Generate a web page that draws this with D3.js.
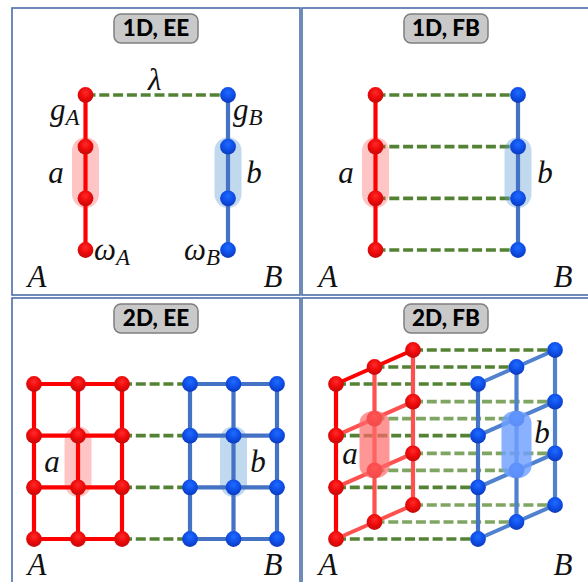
<!DOCTYPE html>
<html>
<head>
<meta charset="utf-8">
<script src="https://cdnjs.cloudflare.com/ajax/libs/d3/7.8.5/d3.min.js"></script>
<style>
  html, body { margin: 0; padding: 0; background: #fff; overflow: hidden; }
  text { fill: #111; }
  .title { font-family: Lato, "Open Sans", sans-serif; font-weight: 900; font-size: 22.5px; text-anchor: middle; fill: #000; }
  .math { font-family: "Liberation Serif", serif; font-style: italic; font-size: 31px; }
  .sub { font-size: 23px; }
</style>
</head>
<body>
<svg id="canvas" width="588" height="582"></svg>
<script>
// layer index / row index of the sites in each lattice
var panel_titles = ['1D, EE', '1D, FB', '2D, EE', '2D, FB']
var rows = [0, 1, 2, 3]
var cols_1d = [0]
var cols_2d = [0, 1, 2]
var depths_flat = [0]
var depths_3d = [0, 1, 2]

// which rows carry the dashed coupling between A and B
var coupled_rows_ee = [0]
var coupled_rows_fb = [0, 1, 2, 3]
var coupled_rows_2d = [0, 1, 2, 3]

var subsystem_names = ['A', 'B']
var region_names = ['a', 'b']

var canvas = d3.select('#canvas')

var colors = {
  red: '#ff0000', red_back: '#ff5050',
  blue: '#4472c4', blue_back: '#4f81cf',
  green: '#548235', green_back: '#7fa562',
  frame: '#4a6ea9'
}

// ball shading
var defs = canvas.append('defs')
function ball_gradient(id, c0, c1, c2) {
  var g = defs.append('radialGradient').attr('id', id)
    .attr('cx', '50%').attr('cy', '35%').attr('r', '62%')
  g.append('stop').attr('offset', '0%').attr('stop-color', c0)
  g.append('stop').attr('offset', '55%').attr('stop-color', c1)
  g.append('stop').attr('offset', '100%').attr('stop-color', c2)
}
ball_gradient('ball_red', '#ff2a2a', '#ee0a0a', '#c80a0a')
ball_gradient('ball_blue', '#1f6bff', '#0f50ea', '#0c3cc0')

// frames
var frame_x = d3.scaleOrdinal().domain([0, 1]).range([12, 302])
var frame_y = d3.scaleOrdinal().domain([0, 1]).range([8, 298])
var frame_w = d3.scaleOrdinal().domain([0, 1]).range([288, 300])
var frame_h = d3.scaleOrdinal().domain([0, 1]).range([287, 300])
var title_x = d3.scaleOrdinal().domain([0, 1]).range([156, 446])
var title_y = d3.scaleOrdinal().domain([0, 1]).range([14, 304])

function draw_panel(p) {
  var col = p.index % 2, row = Math.floor(p.index / 2)
  var g = canvas.append('g')

  g.append('rect')
    .attr('x', frame_x(col)).attr('y', frame_y(row))
    .attr('width', frame_w(col)).attr('height', frame_h(row))
    .attr('fill', '#fff').attr('stroke', colors.frame).attr('stroke-width', 1.6)

  var y = d3.scaleLinear().domain([0, 3]).range(p.y_range)
  var depth_x = d3.scaleLinear().domain([0, 2]).range([0, p.skew_x || 0])
  var depth_y = d3.scaleLinear().domain([0, 2]).range([0, p.skew_y || 0])
  var xA = d3.scaleLinear().domain([0, Math.max(1, p.cols.length - 1)]).range(p.xA_range)
  var xB = d3.scaleLinear().domain([0, Math.max(1, p.cols.length - 1)]).range(p.xB_range)

  function px(scale, c, d) { return scale(c) + depth_x(d) }
  function py(r, d) { return y(r) + depth_y(d) }

  // all bonds of one lattice, back layers first
  function bonds(scale, strong, light) {
    var list = []
    p.depths.slice().reverse().forEach(function(d) {
      p.cols.forEach(function(c) {
        rows.slice(0, 3).forEach(function(r) {
          list.push({x1: px(scale, c, d), y1: py(r, d), x2: px(scale, c, d), y2: py(r + 1, d),
                     stroke: d == 0 ? strong : light, w: 4.2})
        })
      })
      if (!p.is_3d) {
        rows.forEach(function(r) {
          p.cols.slice(0, -1).forEach(function(c) {
            if (p.cols.length > 1) list.push({x1: px(scale, c, d), y1: py(r, d), x2: px(scale, c + 1, d), y2: py(r, d), stroke: strong, w: 4.2})
          })
        })
      }
    })
    if (p.is_3d) {
      rows.forEach(function(r) {
        p.depths.slice(0, -1).forEach(function(d) {
          list.push({x1: px(scale, 0, d), y1: py(r, d), x2: px(scale, 0, d + 1), y2: py(r, d + 1),
                     stroke: (r == 0 && scale === xA) ? strong : light, w: 4})
        })
      })
    }
    return list
  }

  // dashed couplings
  var dashes = []
  p.depths.slice().reverse().forEach(function(d) {
    p.coupled.forEach(function(r) {
      dashes.push({x1: px(xA, p.cols[p.cols.length - 1], d), x2: px(xB, 0, d), y: py(r, d),
                   stroke: (d == 0 || r == 0) ? colors.green : colors.green_back})
    })
  })
  g.selectAll('line.dash').data(dashes).join('line').attr('class', 'dash')
    .attr('x1', function(d) { return d.x1 }).attr('x2', function(d) { return d.x2 })
    .attr('y1', function(d) { return d.y }).attr('y2', function(d) { return d.y })
    .attr('stroke', function(d) { return d.stroke })
    .attr('stroke-width', 3.6).attr('stroke-dasharray', '10 3.8')

  // pale region behind the sites (flat panels) or over them (3d panel)
  function pills(layer) {
    var mid_c = p.cols[Math.floor(p.cols.length / 2)]
    var mid_d = p.depths[Math.floor(p.depths.length / 2)]
    var hw = p.is_3d ? 15 : 13.5
    var margin = p.is_3d ? 8 : 9.5
    var data = [
      {cx: px(xA, mid_c, mid_d), fill: p.is_3d ? '#ff6a6a' : '#ff3b3b', op: p.is_3d ? 0.7 : 0.3},
      {cx: px(xB, mid_c, mid_d), fill: p.is_3d ? '#6fa0ff' : '#5b9bd5', op: p.is_3d ? 0.82 : 0.38}
    ]
    layer.selectAll('rect.pill').data(data).join('rect').attr('class', 'pill')
      .attr('x', function(d) { return d.cx - hw })
      .attr('y', py(1, mid_d) - margin)
      .attr('width', hw * 2)
      .attr('height', py(2, mid_d) - py(1, mid_d) + margin * 2)
      .attr('rx', hw).attr('ry', p.is_3d ? 12 : hw)
      .attr('fill', function(d) { return d.fill })
      .attr('fill-opacity', function(d) { return d.op })
  }

  if (!p.is_3d) pills(g.append('g'))

  var bond_data = bonds(xA, colors.red, colors.red_back).concat(bonds(xB, colors.blue, colors.blue_back))
  g.selectAll('line.bond').data(bond_data).join('line').attr('class', 'bond')
    .attr('x1', function(d) { return d.x1 }).attr('x2', function(d) { return d.x2 })
    .attr('y1', function(d) { return d.y1 }).attr('y2', function(d) { return d.y2 })
    .attr('stroke', function(d) { return d.stroke })
    .attr('stroke-width', function(d) { return d.w })

  var sites = []
  ;[[xA, 'ball_red'], [xB, 'ball_blue']].forEach(function(s) {
    p.depths.slice().reverse().forEach(function(d) {
      p.cols.forEach(function(c) {
        rows.forEach(function(r) {
          sites.push({x: px(s[0], c, d), y: py(r, d), fill: s[1]})
        })
      })
    })
  })
  g.selectAll('circle.site').data(sites).join('circle').attr('class', 'site')
    .attr('cx', function(d) { return d.x }).attr('cy', function(d) { return d.y })
    .attr('r', 7.9)
    .attr('fill', function(d) { return 'url(#' + d.fill + ')' })

  if (p.is_3d) pills(g.append('g'))

  // title badge
  g.append('rect')
    .attr('x', title_x(col) + p.title_dx - 42).attr('y', title_y(row))
    .attr('width', 84).attr('height', 29).attr('rx', 7)
    .attr('fill', '#c9c9c9').attr('stroke', '#7f7f7f').attr('stroke-width', 1.5)
  g.append('text').attr('class', 'title')
    .attr('x', title_x(col) + p.title_dx).attr('y', title_y(row) + 22)
    .text(panel_titles[p.index])

  // corner letters
  g.selectAll('text.corner').data(subsystem_names).join('text')
    .attr('class', 'math corner').attr('text-anchor', 'middle')
    .attr('x', function(d, i) { return p.corner_x[i] })
    .attr('y', row == 0 ? 287 : 575)
    .text(function(d) { return d })

  // region letters
  g.selectAll('text.region').data(region_names).join('text')
    .attr('class', 'math region').attr('text-anchor', 'middle')
    .attr('x', function(d, i) { return p.region_x[i] })
    .attr('y', function(d, i) { return p.region_y[i] })
    .text(function(d) { return d })
}

draw_panel({index: 0, cols: cols_1d, depths: depths_flat, coupled: coupled_rows_ee, title_dx: 0,
  y_range: [95, 250], xA_range: [85.5, 85.5], xB_range: [228, 228],
  corner_x: [37, 273], region_x: [56, 254], region_y: [183, 183]})
draw_panel({index: 1, cols: cols_1d, depths: depths_flat, coupled: coupled_rows_fb, title_dx: 0,
  y_range: [95, 250], xA_range: [375.5, 375.5], xB_range: [518, 518],
  corner_x: [328, 563], region_x: [346, 545], region_y: [183, 183]})
draw_panel({index: 2, cols: cols_2d, depths: depths_flat, coupled: coupled_rows_2d, title_dx: 0,
  y_range: [384, 539], xA_range: [34, 122], xB_range: [190, 277],
  corner_x: [37, 273], region_x: [52, 258], region_y: [472, 472]})
draw_panel({index: 3, cols: [0], depths: depths_3d, coupled: coupled_rows_2d, title_dx: 0, is_3d: true,
  skew_x: 77, skew_y: -34,
  y_range: [384, 539], xA_range: [336, 336], xB_range: [478, 478],
  corner_x: [328, 563], region_x: [350, 542], region_y: [464, 443]})

// coupling and site labels of the first panel
function label(x, y, main, sub) {
  var t = canvas.append('text').attr('class', 'math').attr('x', x).attr('y', y).text(main)
  if (sub) t.append('tspan').attr('class', 'sub').attr('dy', 5).text(sub)
}
label(148, 90, '\u03bb')
label(50, 120, 'g', 'A')
label(233, 120, 'g', 'B')
label(94, 260, '\u03c9', 'A')
label(184, 260, '\u03c9', 'B')
</script>
</body>
</html>
